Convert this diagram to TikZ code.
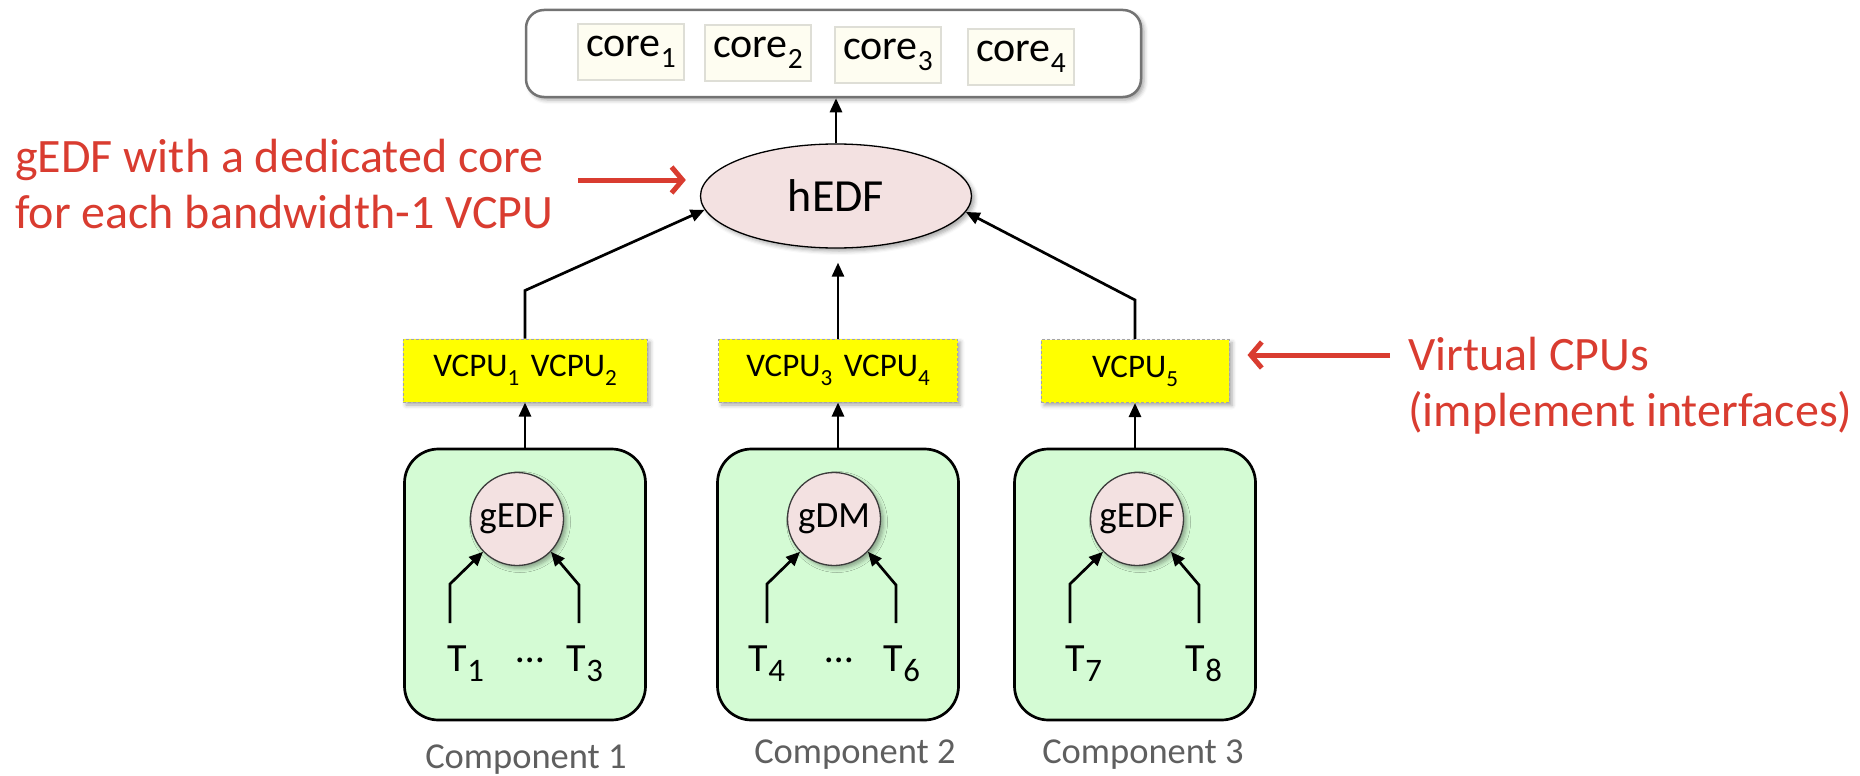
\documentclass[tikz,border=0pt]{standalone}
\usepackage{fontspec}
\setmainfont{Carlito}
\usepackage{graphicx}
\usetikzlibrary{positioning,shapes.geometric,arrows.meta,shadows.blur}

\definecolor{vcpuyellow}{RGB}{255,255,0}
\definecolor{vcpuline}{RGB}{165,165,165}
\definecolor{compgreen}{RGB}{212,251,212}
\definecolor{schedpink}{RGB}{243,225,225}
\definecolor{corefill}{RGB}{254,253,241}
\definecolor{coreline}{RGB}{222,222,214}
\definecolor{topline}{RGB}{115,115,115}
\definecolor{notered}{RGB}{217,60,48}
\definecolor{labelgray}{RGB}{95,95,95}

\newcommand{\idx}[2][0.7]{\raisebox{-0.27em}{\scalebox{#1}{#2}}}

\tikzset{
    arr/.style={-{Triangle[length=14pt,width=12pt]}, line width=2.7pt},
    redarr/.style={-{Straight Barb[length=11pt,width=26pt]}, line width=5pt, draw=notered},
    softshadow/.style={blur shadow={shadow xshift=3pt, shadow yshift=-3pt, shadow blur radius=4pt, shadow opacity=35}},
    topbox/.style={draw=topline, line width=2.5pt, fill=white, rounded corners=18pt, softshadow},
    corebox/.style={draw=coreline, line width=1.5pt, fill=corefill, minimum width=106pt, minimum height=56pt, inner sep=0, font=\fontsize{42pt}{50pt}\selectfont},
    sched/.style={ellipse, draw, line width=1.3pt, fill=schedpink, inner sep=0, font=\fontsize{46pt}{55pt}\selectfont, softshadow},
    vcpu/.style={draw=vcpuline, densely dashed, line width=1pt, fill=vcpuyellow, minimum height=63pt, inner sep=0, font=\fontsize{33pt}{40pt}\selectfont, softshadow},
    comp/.style={draw, line width=2.7pt, fill=compgreen, rounded corners=34pt, minimum width=241pt, minimum height=271pt},
    local/.style={circle, draw={rgb,255:red,60;green,60;blue,60}, line width=1.3pt, fill=schedpink, minimum size=93pt, inner sep=0, font=\fontsize{37pt}{44pt}\selectfont, softshadow},
    task/.style={anchor=base, inner sep=0, font=\fontsize{40pt}{47pt}\selectfont},
    complabel/.style={anchor=base, inner sep=0, text=labelgray, font=\fontsize{36.5pt}{44pt}\selectfont},
    note/.style={anchor=base west, align=left, inner sep=0, text=notered, font=\fontsize{48pt}{56pt}\selectfont}
}

\begin{document}
\begin{tikzpicture}[x=1pt, y=-1pt]
    \useasboundingbox (0,0) rectangle (1860,776);

    % Cores
    \node[topbox, minimum width=615pt, minimum height=87pt] (cores) at (833.5,53.5) {};
    \foreach \i/\x/\y in {1/631/52, 2/758/53, 3/888/55, 4/1021/57}
        \node[corebox] (core\i) at (\x,\y) {core\idx{\i}};

    % Top-level scheduler
    \node[sched, minimum width=271pt, minimum height=104pt] (hedf) at (836,196) {hEDF};
    \draw[arr] (hedf.north) -- (hedf.north |- cores.south);

    % VCPUs
    \node[vcpu, minimum width=244pt] (vc1) at (525,370.5) {VCPU\idx{1}\hspace{0.35em}VCPU\idx{2}};
    \node[vcpu, minimum width=239pt] (vc2) at (838,370.5) {VCPU\idx{3}\hspace{0.35em}VCPU\idx{4}};
    \node[vcpu, minimum width=188pt] (vc3) at (1135,371) {VCPU\idx{5}};

    \draw[arr] (vc1.north) -- ++(0,-48) -- (hedf.186);
    \draw[arr, shorten >=14pt] (vc2.north) -- (vc2.north |- hedf.south);
    \draw[arr] (vc3.north) -- ++(0,-39) -- (hedf.-7.5);

    % Components
    \foreach \i/\x/\c/\s in {1/525/517/gEDF, 2/838/834/gDM, 3/1135/1137/gEDF}
    {
        \node[comp] (comp\i) at (\x,584.5) {};
        \node[local] (g\i) at (\c,519) {\s};
        \coordinate (l\i) at ([shift={(-67,104)}]g\i.center);
        \coordinate (r\i) at ([shift={(62,104)}]g\i.center);
        \draw[arr] (l\i) -- ++(0,-39) -- (g\i.224);
        \draw[arr] (r\i) -- ++(0,-38) -- (g\i.316);
        \draw[arr] (comp\i.north) -- (vc\i.south);
    }

    % Tasks
    \node[task] (t1) at (466,671) {T\idx[0.82]{1}};
    \node[task] (d1) at (530,662) {…};
    \node[task] (t3) at (585,671) {T\idx[0.82]{3}};
    \node[task] (t4) at (767,671) {T\idx[0.82]{4}};
    \node[task] (d2) at (839,662) {…};
    \node[task] (t6) at (902,671) {T\idx[0.82]{6}};
    \node[task] (t7) at (1084,671) {T\idx[0.82]{7}};
    \node[task] (t8) at (1204,671) {T\idx[0.82]{8}};

    % Component names
    \node[complabel] (lab1) at (526,768) {Component 1};
    \node[complabel] (lab2) at (855,763) {Component 2};
    \node[complabel] (lab3) at (1143,763) {Component 3};

    % Notes
    \node[note] (notel) at (15,228) {gEDF with a dedicated core\\for each bandwidth-1 VCPU};
    \node[note] (noter) at (1408,426) {Virtual CPUs\\(implement interfaces)};

    \coordinate (pl) at (578,180);
    \draw[redarr, shorten >=14pt] (pl) -- (pl -| hedf.west);
    \coordinate (pr) at (1390,355);
    \draw[redarr, shorten >=18pt] (pr) -- (pr -| vc3.east);
\end{tikzpicture}
\end{document}
